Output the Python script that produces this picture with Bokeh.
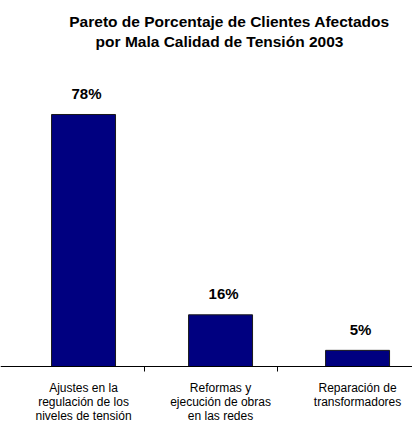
from bokeh.plotting import figure
from bokeh.models import Range1d, FixedTicker, Label
from bokeh.embed import file_html
from bokeh.resources import INLINE
from bokeh.core.properties import value

# ---- data ----
categories = [
    "Ajustes en la\nregulación de los\nniveles de tensión",
    "Reformas y\nejecución de obras\nen las redes",
    "Reparación de\ntransformadores",
]
positions = [1, 2, 3]
percent = [78, 16, 5]
percent_labels = ["78%", "16%", "5%"]
title_lines = [
    "Pareto de Porcentaje de Clientes Afectados",
    "por Mala Calidad de Tensión 2003",
]

FONT = "Liberation Sans"

p = figure(
    width=412, height=424, title=None,
    output_backend="svg", toolbar_location=None,
    x_range=Range1d(0.394, 3.401), y_range=Range1d(-17.95, 113.28),
    y_axis_location=None,
    min_border_left=0, min_border_right=0, min_border_top=0, min_border_bottom=0,
)
p.outline_line_color = None
p.xgrid.visible = False
p.ygrid.visible = False

p.vbar(x=positions, top=percent, width=0.467,
       fill_color="#000080", line_color="#1a1a1a", line_width=1)

p.text(x=positions, y=percent, text=percent_labels,
       x_offset=3, y_offset=-21,
       text_align="center", text_baseline="alphabetic",
       text_font=value(FONT), text_font_style="bold",
       text_font_size="15px", text_color="black")

ax = p.xaxis[0]
ax.fixed_location = 0
ax.ticker = FixedTicker(ticks=positions, minor_ticks=[1.445, 2.416])
ax.major_label_overrides = {pos: lab for pos, lab in zip(positions, categories)}
ax.major_label_standoff = 9
ax.major_tick_in = 0
ax.major_tick_out = 0
ax.minor_tick_in = 0
ax.minor_tick_out = 5
ax.minor_tick_line_color = "black"
ax.axis_line_color = "black"
ax.major_label_text_font = FONT
ax.major_label_text_font_size = "12px"
ax.major_label_text_color = "black"
ax.major_label_text_line_height = 1.0

for line, cx, cy in zip(title_lines, [229, 219], [403, 383]):
    p.add_layout(Label(x=cx, y=cy, x_units="screen", y_units="screen",
                       text=line, text_align="center", text_baseline="alphabetic",
                       text_font=FONT, text_font_style="bold",
                       text_font_size="15.5px", text_color="black"))

open("out.html", "w").write(file_html(p, INLINE))
